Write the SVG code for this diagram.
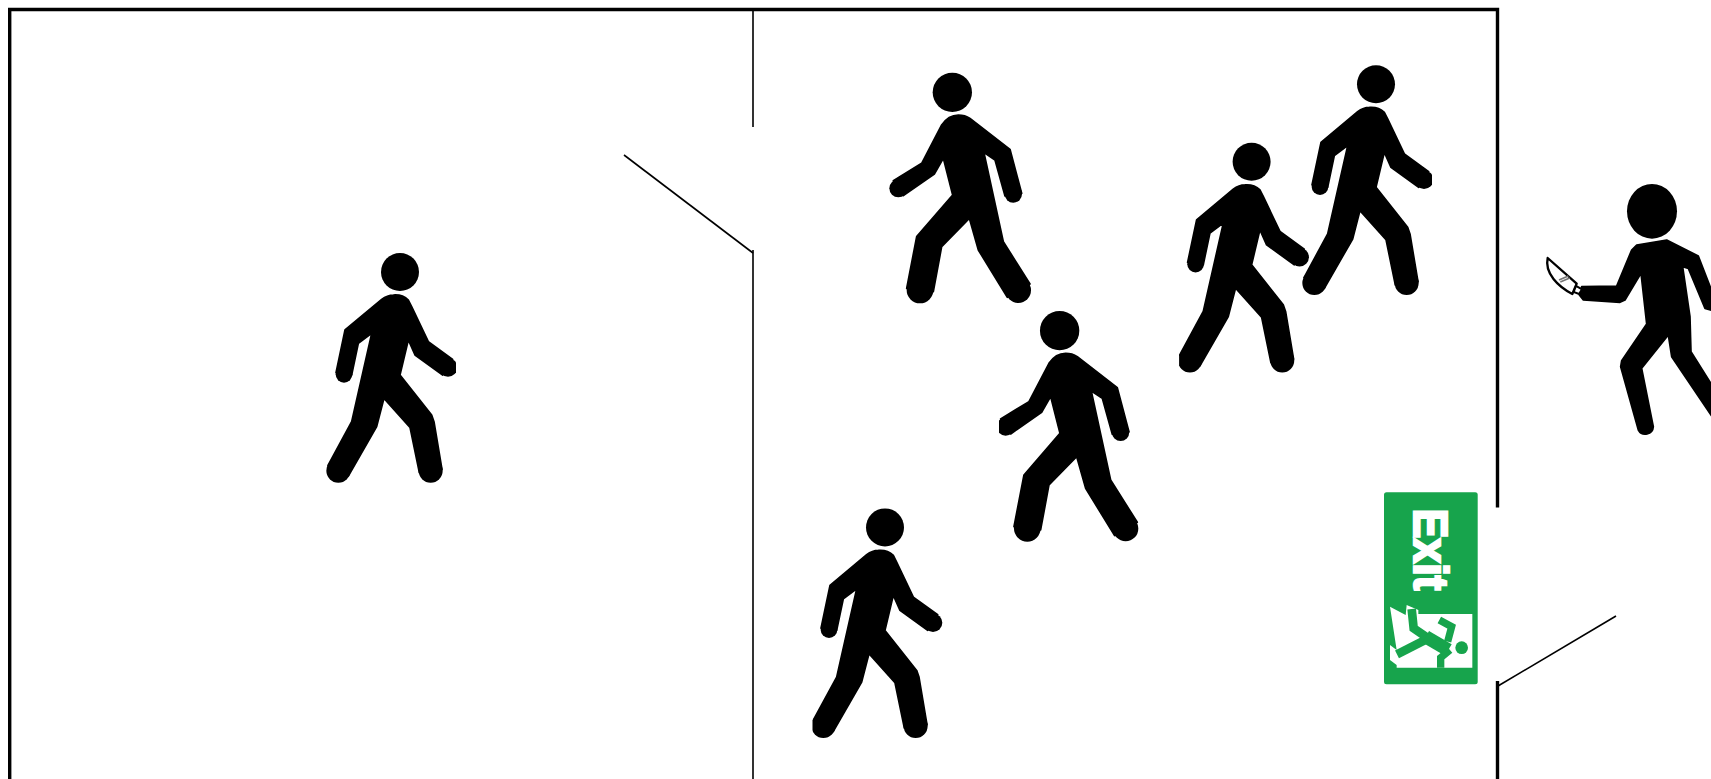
<svg xmlns="http://www.w3.org/2000/svg" width="1711" height="779" viewBox="0 0 1711 779">
<style>
.wall{stroke:#000;stroke-width:3.4;fill:none}
.thin{stroke:#000;stroke-width:1.6;fill:none}
.fig{fill:#000}
.body{fill:#000;stroke:#000;stroke-width:5;stroke-linejoin:round}
.pic{fill:none;stroke:#17a44c;stroke-width:26;stroke-linejoin:miter}
</style>
<defs>
<g id="walkA" transform="scale(.33333)">
<circle class="fig" cx="270" cy="96" r="57"/>
<path class="body" d="M250 165Q278 163 295 180L305 200L355 305L428 358L398 405L315 345L295 300L270 405L365 525L372 545L396 688L328 698L300 562L222 475L200 560L115 708L54 676L125 545L185 280L145 310L125 405L78 398L105 270L215 178Q232 165 250 165Z"/>
<circle class="fig" cx="414" cy="382" r="28"/>
<circle class="fig" cx="102" cy="403" r="25"/>
<circle class="fig" cx="85" cy="692" r="36"/>
<circle class="fig" cx="362" cy="692" r="36"/>
</g>
<g id="walkB" transform="scale(.33333)">
<circle class="fig" cx="217" cy="97" r="59"/>
<path class="body" d="M235 165Q255 165 270 175L390 268L425 400L375 408L345 300L312 278L370 545L450 672L382 712L295 570L268 475L185 560L160 695L80 685L110 530L218 405L190 295L163 342L70 407L40 362L125 310L185 195Q205 165 235 165Z"/>
<circle class="fig" cx="400" cy="402" r="26"/>
<circle class="fig" cx="55" cy="385" r="27"/>
<circle class="fig" cx="415" cy="691" r="38"/>
<circle class="fig" cx="120" cy="690" r="40"/>
</g>
<clipPath id="clipA"><rect x="0" y="0" width="146" height="260"/></clipPath>
<clipPath id="clipB"><rect x="11.7" y="0" width="160" height="260"/></clipPath>
<clipPath id="clipC"><rect x="17.5" y="0" width="136" height="260"/></clipPath>
</defs>
<g id="walls">
<path class="wall" d="M9.7 779V9.5H1497.5V507.5"/>
<path class="wall" d="M1497.5 681V779"/>
<path class="thin" d="M753 10V127M753 250V779"/>
<path class="thin" d="M624 155L753 253"/>
<path class="thin" d="M1498 686L1616 616"/>
</g>
<g id="person1" transform="translate(310 240)"><use href="#walkA" clip-path="url(#clipA)"/></g>
<g id="person2" transform="translate(880 60)"><use href="#walkB"/></g>
<g id="person3" transform="translate(1286 52.3)"><use href="#walkA" clip-path="url(#clipA)"/></g>
<g id="person4" transform="translate(1161.6 129.8)"><use href="#walkA" clip-path="url(#clipC)"/></g>
<g id="person5" transform="translate(987.3 298.3)"><use href="#walkB" clip-path="url(#clipB)"/></g>
<g id="person6" transform="translate(795 495.4)"><use href="#walkA" clip-path="url(#clipC)"/></g>
<g id="attacker" transform="translate(1530 170) scale(.33333)">
<ellipse class="fig" cx="366" cy="124" rx="75" ry="82"/>
<path class="body" d="M320 225L410 210L505 258L560 400V425L525 415L475 295L458 290L480 440L483 545L560 668V760L425 560L415 495L335 595L370 770A24 24 0 0 1 325 780L272 590L275 572L350 462L333 310L285 390L270 397L160 390L148 375L155 350L260 348L305 240Z"/>
<g transform="translate(15 60)">
<path d="M38 204L125 281L112 312C70 290 28 250 38 204Z" fill="#fff" stroke="#000" stroke-width="7" stroke-linejoin="round"/>
<path d="M123 288L141 298L132 312L116 306Z" fill="#fff" stroke="#000" stroke-width="6"/>
<path d="M72 270L100 258M76 276L104 264" stroke="#777" stroke-width="5" fill="none"/>
</g>
</g>
<g id="exit-sign">
<rect x="1384" y="492.3" width="93.7" height="192" rx="2.5" fill="#17a44c"/>
<text transform="translate(1414 508.5) rotate(90)" font-family="'Liberation Sans',Arial,sans-serif" font-weight="700" font-size="48" textLength="82" lengthAdjust="spacingAndGlyphs" fill="#fff" stroke="#fff" stroke-width="2.4">Exit</text>
<g transform="translate(1385 595) scale(.33333)">
<path d="M15 35L62 60L65 30L100 45V57H262V218H35V210L15 195V150L35 165Z" fill="#fff"/>
<path class="pic" d="M80 42L86 100L130 130"/>
<path class="pic" d="M36 178L130 130"/>
<path class="pic" style="stroke-width:40" d="M122 125L190 165"/>
<path class="pic" style="stroke-width:22" d="M163 75L200 95L188 140"/>
<path class="pic" style="stroke-width:22" d="M195 165L167 188V218"/>
<circle cx="230" cy="158" r="19" fill="#17a44c"/>
</g>
</g>
</svg>
